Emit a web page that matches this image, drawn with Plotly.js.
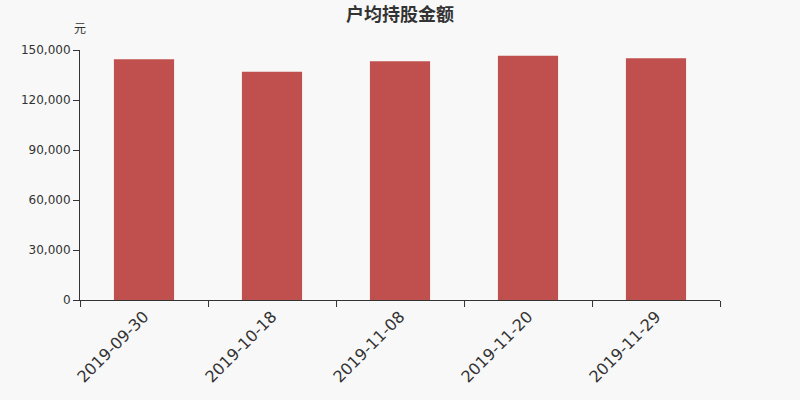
<!DOCTYPE html>
<html><head><meta charset="utf-8">
<script src="https://cdn.plot.ly/plotly-3.0.1.min.js"></script>
<style>body{margin:0;background:#f8f8f8}</style>
</head><body><div id="c" style="width:800px;height:400px"></div>
<script>
const categories = ["2019-09-30","2019-10-18","2019-11-08","2019-11-20","2019-11-29"];
const values = [144400, 137000, 143200, 146600, 145000];
const yTicks = [0, 30000, 60000, 90000, 120000, 150000];
const yTickText = ["0","30,000","60,000","90,000","120,000","150,000"];

const cjk = "'Noto Sans CJK SC', sans-serif";
const num = "'DejaVu Sans', sans-serif";
Plotly.newPlot('c', [{
  type: 'bar', x: categories, y: values,
  marker: {color: '#c0504d'}, hoverinfo: 'none'
}], {
  width: 800, height: 400,
  paper_bgcolor: '#f8f8f8', plot_bgcolor: '#f8f8f8',
  margin: {l: 80, r: 80, t: 50, b: 100},
  bargap: 0.53,
  title: {text: '<b>户均持股金额</b>', x: 0.5, xanchor: 'center', yref: 'container', y: 0.963, yanchor: 'middle',
    font: {family: cjk, size: 18, color: '#333'}},
  xaxis: {type: 'category', tickson: 'boundaries', ticks: 'outside', ticklen: 6, tickcolor: '#333',
    showline: true, linecolor: '#333', linewidth: 1, showgrid: false, tickangle: -45,
    tickfont: {family: num, size: 16, color: '#333'}},
  yaxis: {range: [0, 150000], tickvals: yTicks, ticktext: yTickText, ticks: 'outside', ticklen: 6,
    tickcolor: '#333', showline: true, linecolor: '#333', linewidth: 1, showgrid: false, zeroline: false,
    tickfont: {family: num, size: 12, color: '#333'}},
  annotations: [{text: '元', xref: 'paper', yref: 'paper', x: 0, y: 1.09, xanchor: 'center', yanchor: 'middle',
    showarrow: false, font: {family: cjk, size: 12, color: '#333'}}],
  showlegend: false
}, {displayModeBar: false, staticPlot: true});
</script></body></html>
